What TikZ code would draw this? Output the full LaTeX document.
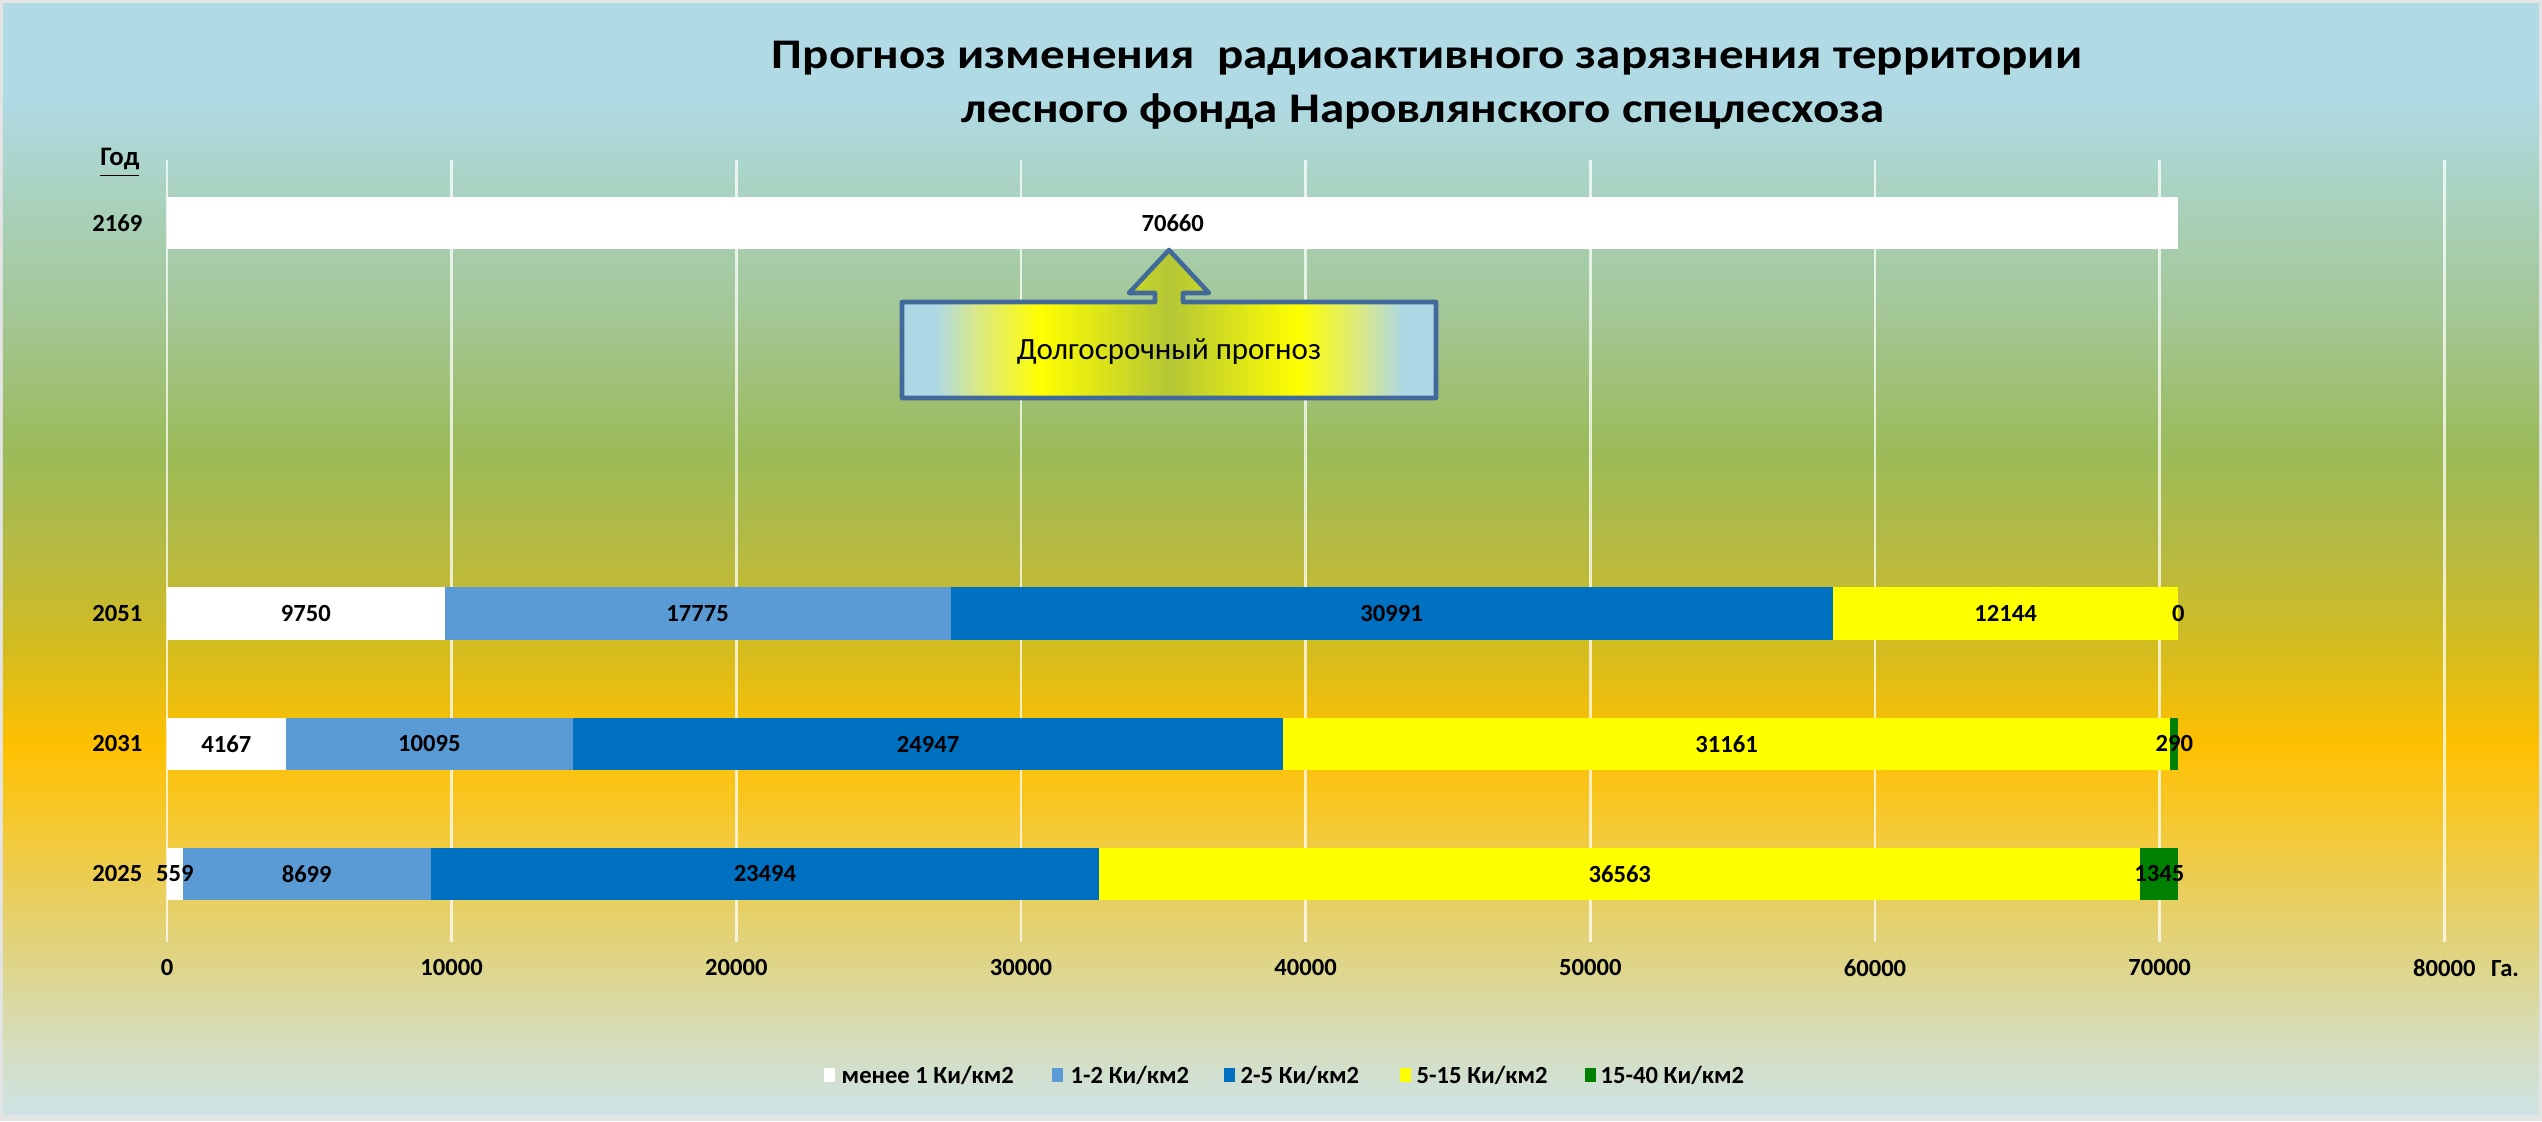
\documentclass[tikz,border=0pt]{standalone}
\usepackage{fontspec}
\setmainfont{Carlito}
\newfontfamily\ttlfont[FakeStretch=1.16]{Carlito}
\definecolor{c12}{HTML}{5B9BD5}
\definecolor{c25}{HTML}{0070C0}
\definecolor{c515}{HTML}{FFFF00}
\definecolor{c1540}{HTML}{008000}
\definecolor{frame}{HTML}{E4E4E4}
\definecolor{bgA}{HTML}{B0DAE4}
\definecolor{bgB}{HTML}{A8D0B8}
\definecolor{bgC}{HTML}{A3C693}
\definecolor{bgD}{HTML}{9BBB59}
\definecolor{bgE}{HTML}{B8BA40}
\definecolor{bgF}{HTML}{D2BC20}
\definecolor{bgG}{HTML}{FFC000}
\definecolor{bgH}{HTML}{F5C830}
\definecolor{bgI}{HTML}{E5D06A}
\definecolor{bgJ}{HTML}{DAD9A0}
\definecolor{bgK}{HTML}{CDE3E6}
\definecolor{cblue}{HTML}{ADD8E6}
\definecolor{cpale}{HTML}{D8E88A}
\definecolor{cgreen}{HTML}{B4C636}
\definecolor{cline}{HTML}{41699A}
\begin{document}
\begin{tikzpicture}[x=0.01cm,y=-0.01cm,
  lbl/.style={font=\fontsize{7}{8}\selectfont\bfseries, text=black, inner sep=0pt},
  gridln/.style={draw=white, draw opacity=0.75, line width=0.7pt},
  ttl/.style={anchor=base, inner sep=0pt, font=\ttlfont\fontsize{12}{14}\selectfont\bfseries},
]
\useasboundingbox (0,0) rectangle (2542,1121);
\fill[frame] (0,0) rectangle (2542,1121);
% background gradient
\fill[bgA] (3,3) rectangle (2539,101);
\fill[top color=bgA, bottom color=bgB] (3,100) rectangle (2539,215);
\fill[top color=bgB, bottom color=bgC] (3,214) rectangle (2539,322);
\fill[top color=bgC, bottom color=bgD] (3,321) rectangle (2539,451);
\fill[top color=bgD, bottom color=bgE] (3,450) rectangle (2539,558);
\fill[top color=bgE, bottom color=bgF] (3,557) rectangle (2539,644);
\fill[top color=bgF, bottom color=bgG] (3,643) rectangle (2539,746);
\fill[top color=bgG, bottom color=bgH] (3,745) rectangle (2539,822);
\fill[top color=bgH, bottom color=bgI] (3,821) rectangle (2539,915);
\fill[top color=bgI, bottom color=bgJ] (3,914) rectangle (2539,1001);
\fill[top color=bgJ, bottom color=bgK] (3,1000) rectangle (2539,1114);

% title
\node[ttl] (t1) at (1427,68) {Прогноз изменения \ радиоактивного зарязнения территории};
\node[ttl] (t2) at (1423,122) {лесного фонда Наровлянского спецлесхоза};

% plot area in data units (thousands of ha)
\begin{scope}[shift={(167,0)}, x=0.2845cm]
  \foreach \g/\t in {0/0,10/10000,20/20000,30/30000,40/40000,50/50000,60/60000,70/70000,80/80000} {
    \draw[gridln] (\g,160) -- (\g,942);
    \node[lbl] (tick\g) at (\g,968) {\t};
  }
  % 2169
  \fill[white] (0,197) rectangle (70.66,249);
  % 2051
  \fill[white] (0,587) rectangle (9.750,640);
  \fill[c12]   (9.750,587) rectangle (27.525,640);
  \fill[c25]   (27.525,587) rectangle (58.516,640);
  \fill[c515]  (58.516,587) rectangle (70.660,640);
  % 2031
  \fill[white] (0,718) rectangle (4.167,770);
  \fill[c12]   (4.167,718) rectangle (14.262,770);
  \fill[c25]   (14.262,718) rectangle (39.209,770);
  \fill[c515]  (39.209,718) rectangle (70.370,770);
  \fill[c1540] (70.370,718) rectangle (70.660,770);
  % 2025
  \fill[white] (0,848) rectangle (0.559,900);
  \fill[c12]   (0.559,848) rectangle (9.258,900);
  \fill[c25]   (9.258,848) rectangle (32.752,900);
  \fill[c515]  (32.752,848) rectangle (69.315,900);
  \fill[c1540] (69.315,848) rectangle (70.660,900);
  % data labels
  \node[lbl] (v2169) at (35.33,223) {70660};
  \node[lbl] (a1) at (4.875,613.5) {9750};
  \node[lbl] (a2) at (18.6375,613.5) {17775};
  \node[lbl] (a3) at (43.0205,613.5) {30991};
  \node[lbl] (a4) at (64.588,613.5) {12144};
  \node[lbl] (a5) at (70.66,613.5) {0};
  \node[lbl] (b1) at (2.0835,744) {4167};
  \node[lbl] (b2) at (9.2145,744) {10095};
  \node[lbl] (b3) at (26.7355,744) {24947};
  \node[lbl] (b4) at (54.7895,744) {31161};
  \node[lbl] (b5) at (70.515,744) {290};
  \node[lbl] (d1) at (0.2795,874) {559};
  \node[lbl] (d2) at (4.9085,874) {8699};
  \node[lbl] (d3) at (21.005,874) {23494};
  \node[lbl] (d4) at (51.0335,874) {36563};
  \node[lbl] (d5) at (69.9875,874) {1345};
\end{scope}
\node[lbl] (unit) at (2505,969) {Га.};

% category labels
\node[lbl, anchor=east, font=\fontsize{7.6}{8}\selectfont\bfseries] (god) at (140,163) {\underline{Год}};
\node[lbl, anchor=east] (y2169) at (143,223) {2169};
\node[lbl, anchor=east] (y2051) at (143,613.5) {2051};
\node[lbl, anchor=east] (y2031) at (143,744) {2031};
\node[lbl, anchor=east] (y2025) at (143,874) {2025};

% callout
\def\callpath{(902,302) -- (1155,302) -- (1155,293) -- (1129,293) -- (1169,250) -- (1209,293) -- (1183,293) -- (1183,302) -- (1436,302) -- (1436,398) -- (902,398) -- cycle}
\begin{scope}
  \clip \callpath;
  \fill[cblue] (900,245) rectangle (936,400);
  \fill[left color=cblue, right color=cpale] (935,245) rectangle (976,400);
  \fill[left color=cpale, right color=c515] (975,245) rectangle (1040,400);
  \fill[left color=c515, right color=cgreen] (1039,245) rectangle (1170,400);
  \fill[left color=cgreen, right color=c515] (1169,245) rectangle (1299,400);
  \fill[left color=c515, right color=cpale] (1298,245) rectangle (1363,400);
  \fill[left color=cpale, right color=cblue] (1362,245) rectangle (1403,400);
  \fill[cblue] (1402,245) rectangle (1440,400);
\end{scope}
\draw[cline, line width=1.3pt, line join=round] \callpath;
\node[inner sep=0pt, font=\fontsize{8.8}{10}\selectfont] (callout) at (1169,352) {Долгосрочный прогноз};

% legend
\fill[white] (824,1068) rectangle (835,1082);
\node[lbl, anchor=west] (l1) at (841,1075) {менее 1 Ки/км2};
\fill[c12] (1052,1068) rectangle (1063,1082);
\node[lbl, anchor=west] (l2) at (1070,1075) {1-2 Ки/км2};
\fill[c25] (1224,1068) rectangle (1235,1082);
\node[lbl, anchor=west] (l3) at (1240,1075) {2-5 Ки/км2};
\fill[c515] (1400,1068) rectangle (1411,1082);
\node[lbl, anchor=west] (l4) at (1416,1075) {5-15 Ки/км2};
\fill[c1540] (1585,1068) rectangle (1596,1082);
\node[lbl, anchor=west] (l5) at (1600,1075) {15-40 Ки/км2};
\end{tikzpicture}
\end{document}
